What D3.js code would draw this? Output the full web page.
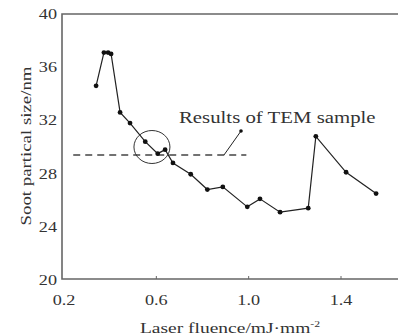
<!DOCTYPE html>
<html>
<head>
<meta charset="utf-8">
<script src="https://cdn.jsdelivr.net/npm/d3@7"></script>
<style>
  body { margin: 0; background: #fff; }
  svg { display: block; }
  text { font-family: "Liberation Serif", "DejaVu Serif", serif; fill: #333; }
</style>
</head>
<body>
<div id="chart"></div>
<script>
// fluence (mJ/mm^2) and soot particle size (nm)
var fluence = [0.339, 0.373, 0.391, 0.404, 0.443, 0.486, 0.552, 0.606, 0.638, 0.672,
               0.749, 0.821, 0.888, 0.994, 1.049, 1.136, 1.258, 1.291, 1.422, 1.552];
var size = [34.6, 37.1, 37.1, 37.0, 32.6, 31.8, 30.4, 29.5, 29.8, 28.8,
            27.95, 26.8, 27.0, 25.5, 26.1, 25.1, 25.4, 30.8, 28.1, 26.5];
var xTicks = [0.2, 0.6, 1.0, 1.4];
var yTicks = [20, 24, 28, 32, 36, 40];
var temLevel = 29.4;          // dashed TEM result line
var temRange = [0.24, 0.99];
var circleAt = [0.581, 30.0];

var W = 398, H = 336;
var padL = 62, padT = 14, axisY = 279;
var stretch = 1.3;            // the source font is drawn wide

var svg = d3.select("#chart").append("svg")
  .attr("width", W).attr("height", H);

var x = d3.scaleLinear().domain([0.2, 1.4]).range([64, 341]);
var y = d3.scaleLinear().domain([20, 40]).range([280, 14]);

// wide text: scaled along its own direction
function wideText(px, py, str, fs, anchor, rot) {
  var g = svg.append("g")
    .attr("transform", "translate(" + px + "," + py + ")" + (rot ? " rotate(" + rot + ")" : "") + " scale(" + stretch + ",1)");
  return g.append("text").attr("font-size", fs).attr("text-anchor", anchor || "start").text(str);
}

// frame (right side runs off the picture)
svg.append("path")
  .attr("d", "M" + (W + 5) + "," + padT + "H" + padL + "V" + axisY + "H" + (W + 5))
  .attr("fill", "none").attr("stroke", "#666").attr("stroke-width", 1.6);

// x ticks, small and pointing inward
svg.selectAll(".xt").data(xTicks.slice(1)).enter().append("line")
  .attr("x1", d => x(d)).attr("x2", d => x(d))
  .attr("y1", axisY).attr("y2", axisY - 3)
  .attr("stroke", "#666").attr("stroke-width", 1);

xTicks.forEach(t => wideText(x(t), 305, t.toFixed(1), 14, "middle"));
yTicks.forEach(t => wideText(57, y(t) + 5, String(t), 14, "end"));

// axis titles
wideText(31, 146, "Soot partical size/nm", 14.5, "middle", -90);

var xt = wideText(230, 333, "", 15, "middle");
xt.append("tspan").text("Laser fluence/mJ\u00b7mm");
xt.append("tspan").attr("dy", -6).attr("font-size", 9).text("-2");

// dashed TEM level
svg.append("line")
  .attr("x1", x(temRange[0])).attr("x2", x(temRange[1]))
  .attr("y1", y(temLevel)).attr("y2", y(temLevel))
  .attr("stroke", "#444").attr("stroke-width", 1.3)
  .attr("stroke-dasharray", "7,5");

// leader from dashed line to label
svg.append("line")
  .attr("x1", 224).attr("y1", y(temLevel))
  .attr("x2", 241).attr("y2", 131)
  .attr("stroke", "#222").attr("stroke-width", 1);
svg.append("circle").attr("cx", 241).attr("cy", 131).attr("r", 1.8).attr("fill", "#111");

wideText(179, 123, "Results of  TEM sample", 16, "start");

// data line + dots
var pts = fluence.map((f, i) => [f, size[i]]);
svg.append("path")
  .attr("d", d3.line().x(d => x(d[0])).y(d => y(d[1]))(pts))
  .attr("fill", "none").attr("stroke", "#222").attr("stroke-width", 1.2);

svg.selectAll(".dot").data(pts).enter().append("circle")
  .attr("cx", d => x(d[0])).attr("cy", d => y(d[1]))
  .attr("r", 2.4).attr("fill", "#111");

// highlight ellipse
svg.append("ellipse")
  .attr("cx", x(circleAt[0])).attr("cy", y(circleAt[1]))
  .attr("rx", 18).attr("ry", 16.5)
  .attr("fill", "none").attr("stroke", "#333").attr("stroke-width", 1);
</script>
</body>
</html>
